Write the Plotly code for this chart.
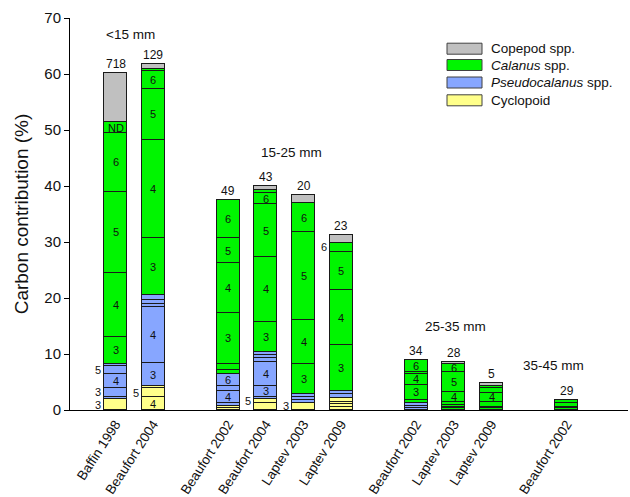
import plotly.graph_objects as go

# ---------------- data ----------------
bar_names = ["Baffin 1998", "Beaufort 2004",
             "Beaufort 2002", "Beaufort 2004", "Laptev 2003", "Laptev 2009",
             "Beaufort 2002", "Laptev 2003", "Laptev 2009",
             "Beaufort 2002"]
bar_pos = [0, 1, 3, 4, 5, 6, 8, 9, 10, 12]
top_counts = ["718", "129", "49", "43", "20", "23", "34", "28", "5", "29"]
group_names = ["<15 mm", "15-25 mm", "25-35 mm", "35-45 mm"]

# taxa codes: Y = Cyclopoid, P = Pseudocalanus spp., G = Calanus spp., C = Copepod spp.
# segment heights bottom -> top (carbon contribution, %), stage label, label side (i=inside, o=outside)
baffin1998_h = [1.9, 0.5, 1.5, 2.5, 1.4, 0.4, 4.9, 11.3, 14.6, 10.4, 2.0, 8.7]
baffin1998_t = ["Y", "P", "P", "P", "P", "P", "G", "G", "G", "G", "G", "C"]
baffin1998_l = ["3", "", "3", "4", "5", "", "3", "4", "5", "6", "ND", ""]
baffin1998_s = ["o", "", "o", "i", "o", "", "i", "i", "i", "i", "i", ""]

beaufort2004a_h = [2.3, 1.6, 0.3, 4.2, 10.0, 0.6, 0.6, 0.9, 10.2, 17.5, 9.2, 3.2, 0.3, 0.9]
beaufort2004a_t = ["Y", "Y", "Y", "P", "P", "P", "P", "P", "G", "G", "G", "G", "G", "C"]
beaufort2004a_l = ["4", "5", "", "3", "4", "", "", "", "3", "4", "5", "6", "", ""]
beaufort2004a_s = ["i", "o", "", "i", "i", "", "", "", "i", "i", "i", "i", "", ""]

beaufort2002b_h = [0.4, 0.4, 0.4, 2.2, 0.9, 2.1, 0.7, 1.2, 9.1, 8.8, 4.5, 6.8]
beaufort2002b_t = ["Y", "Y", "P", "P", "P", "P", "G", "G", "G", "G", "G", "G"]
beaufort2002b_l = ["", "", "", "4", "", "6", "", "", "3", "4", "5", "6"]
beaufort2002b_s = ["", "", "", "i", "", "i", "", "", "i", "i", "i", "i"]

beaufort2004b_h = [1.2, 0.8, 0.4, 1.9, 4.3, 0.6, 0.6, 0.5, 5.5, 11.5, 9.4, 2.1, 0.5, 0.7]
beaufort2004b_t = ["Y", "Y", "P", "P", "P", "P", "P", "P", "G", "G", "G", "G", "G", "C"]
beaufort2004b_l = ["", "5", "", "3", "4", "", "", "", "3", "4", "5", "6", "", ""]
beaufort2004b_s = ["", "o", "", "i", "i", "", "", "", "i", "i", "i", "i", "", ""]

laptev2003b_h = [1.3, 0.5, 0.5, 0.6, 5.3, 7.9, 15.6, 5.3, 1.4]
laptev2003b_t = ["Y", "P", "P", "P", "G", "G", "G", "G", "C"]
laptev2003b_l = ["3", "", "", "", "3", "4", "5", "6", ""]
laptev2003b_s = ["o", "", "", "", "i", "i", "i", "i", ""]

laptev2009b_h = [0.5, 0.5, 0.5, 0.6, 0.8, 0.5, 8.2, 9.8, 6.9, 1.6, 1.3]
laptev2009b_t = ["Y", "Y", "Y", "Y", "P", "P", "G", "G", "G", "G", "C"]
laptev2009b_l = ["", "", "", "", "", "", "3", "4", "5", "6", ""]
laptev2009b_s = ["", "", "", "", "", "", "i", "i", "i", "o", ""]

beaufort2002c_h = [0.4, 0.4, 0.5, 0.5, 2.7, 1.9, 0.4, 2.1]
beaufort2002c_t = ["P", "P", "P", "G", "G", "G", "G", "G"]
beaufort2002c_l = ["", "", "", "", "3", "4", "", "6"]
beaufort2002c_s = ["", "", "", "", "i", "i", "", "i"]

laptev2003c_h = [0.3, 0.3, 0.3, 0.5, 1.9, 3.5, 1.5, 0.3]
laptev2003c_t = ["G", "G", "G", "G", "G", "G", "G", "C"]
laptev2003c_l = ["", "", "", "", "4", "5", "6", ""]
laptev2003c_s = ["", "", "", "", "i", "i", "i", ""]

laptev2009c_h = [0.3, 0.3, 0.9, 1.6, 0.9, 0.3, 0.5]
laptev2009c_t = ["G", "G", "G", "G", "G", "G", "C"]
laptev2009c_l = ["", "", "", "4", "", "", ""]
laptev2009c_s = ["", "", "", "i", "", "", ""]

beaufort2002d_h = [0.3, 0.3, 0.6, 0.5]
beaufort2002d_t = ["G", "G", "G", "G"]
beaufort2002d_l = ["", "", "", ""]
beaufort2002d_s = ["", "", "", ""]

bars = [
    (baffin1998_h, baffin1998_t, baffin1998_l, baffin1998_s),
    (beaufort2004a_h, beaufort2004a_t, beaufort2004a_l, beaufort2004a_s),
    (beaufort2002b_h, beaufort2002b_t, beaufort2002b_l, beaufort2002b_s),
    (beaufort2004b_h, beaufort2004b_t, beaufort2004b_l, beaufort2004b_s),
    (laptev2003b_h, laptev2003b_t, laptev2003b_l, laptev2003b_s),
    (laptev2009b_h, laptev2009b_t, laptev2009b_l, laptev2009b_s),
    (beaufort2002c_h, beaufort2002c_t, beaufort2002c_l, beaufort2002c_s),
    (laptev2003c_h, laptev2003c_t, laptev2003c_l, laptev2003c_s),
    (laptev2009c_h, laptev2009c_t, laptev2009c_l, laptev2009c_s),
    (beaufort2002d_h, beaufort2002d_t, beaufort2002d_l, beaufort2002d_s),
]

legend_labels = ["Copepod spp.", "<i>Calanus</i> spp.", "<i>Pseudocalanus</i> spp.", "Cyclopoid"]
legend_codes = ["C", "G", "P", "Y"]

# ---------------- style ----------------
colors = {"C": "#C0C0C0", "G": "#00F500", "P": "#87A6FF", "Y": "#FFFF8A"}
FONT = "Liberation Sans, Arial, sans-serif"
BAR_W = 0.61
W, H = 630, 497
ML, MR, MT, MB = 70, 2, 18, 87
X0, X1 = -1.21, 13.63
px_per_unit = (W - ML - MR) / (X1 - X0)

fig = go.Figure()
annotations = []

for pos, (hs, ts, ls, ss), cnt in zip(bar_pos, bars, top_counts):
    base = 0.0
    for h, t, l, s in zip(hs, ts, ls, ss):
        fig.add_trace(go.Bar(
            x=[pos], y=[h], width=BAR_W,
            marker=dict(color=colors[t], line=dict(color="#1a1a1a", width=1)),
            showlegend=False, hoverinfo="skip"))
        mid = base + h / 2
        if l and s == "i":
            annotations.append(dict(x=pos, y=mid, text=l, showarrow=False,
                                    font=dict(size=11, color="#111", family=FONT)))
        elif l and s == "o":
            annotations.append(dict(x=pos, y=mid, text=l, showarrow=False,
                                    xanchor="right",
                                    xshift=-(BAR_W / 2 * px_per_unit + 1),
                                    font=dict(size=11, color="#111", family=FONT)))
        base += h
    annotations.append(dict(x=pos, y=base, text=cnt, showarrow=False,
                            yanchor="bottom", yshift=0,
                            font=dict(size=12, color="#111", family=FONT)))

# group labels
group_x = [0.39, 4.69, 9.03, 11.66]
group_y = [67.1, 45.9, 15.0, 7.9]
for gx, gy, gn in zip(group_x, group_y, group_names):
    annotations.append(dict(x=gx, y=gy, text=gn, showarrow=False,
                            font=dict(size=13.5, color="#111", family=FONT)))

# legend (drawn manually)
shapes = []
pw, ph = W - ML - MR, H - MT - MB
def px2paper_x(px):
    return (px - ML) / pw
def px2paper_y(py):
    return (H - MB - py) / ph
legend_rows = [48.7, 65.0, 82.5, 100.3]
for ry, lab, code in zip(legend_rows, legend_labels, legend_codes):
    shapes.append(dict(type="rect", xref="paper", yref="paper",
                       x0=px2paper_x(447), x1=px2paper_x(482),
                       y0=px2paper_y(ry + 5.5), y1=px2paper_y(ry - 5.5),
                       fillcolor=colors[code], line=dict(color="#404040", width=1)))
    annotations.append(dict(xref="paper", yref="paper", x=px2paper_x(489),
                            y=px2paper_y(ry), text=lab, showarrow=False,
                            xanchor="left", yanchor="middle",
                            font=dict(size=13.5, color="#111", family=FONT)))

fig.update_layout(
    barmode="stack",
    width=W, height=H,
    margin=dict(l=ML, r=MR, t=MT, b=MB, pad=0, autoexpand=False),
    paper_bgcolor="white", plot_bgcolor="white",
    font=dict(family=FONT, color="#111"),
    annotations=annotations,
    shapes=shapes,
    bargap=0,
)
fig.update_xaxes(range=[X0, X1], tickvals=bar_pos, ticktext=bar_names,
                 tickangle=-57, ticks="", showline=True, linecolor="black",
                 linewidth=1, showgrid=False, zeroline=False, automargin=False,
                 tickfont=dict(size=13.5, family=FONT, color="#111"))
fig.update_yaxes(range=[0, 70], dtick=10, ticks="outside", ticklen=5,
                 tickcolor="black", showline=True, linecolor="black",
                 linewidth=1, showgrid=False, zeroline=False, automargin=False,
                 tickfont=dict(size=15, family=FONT, color="#111"),
                 title=dict(text="Carbon contribution (%)",
                            font=dict(size=19, family=FONT, color="#111"),
                            standoff=10))

fig.write_html("out.html", config={"displayModeBar": False},
               post_script="document.body.style.margin='0';document.body.style.padding='0';")
